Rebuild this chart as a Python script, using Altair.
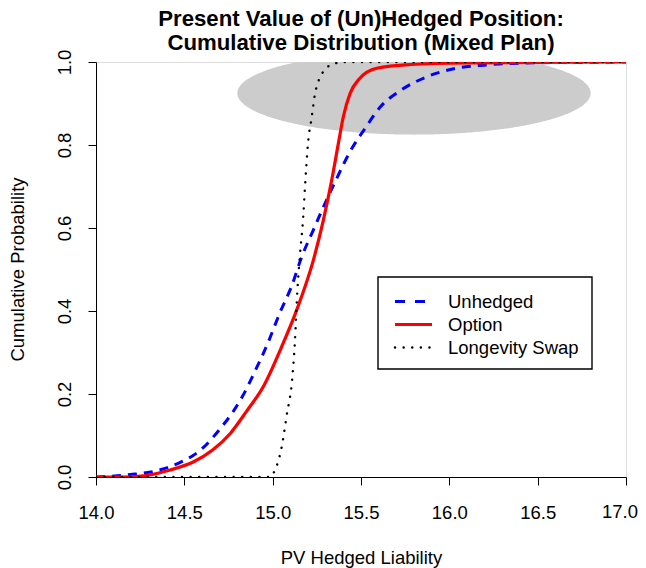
import altair as alt
import numpy as np
import pandas as pd

# ---- data ----
unhedged_x = [14.0, 14.12, 14.22, 14.31, 14.40, 14.48, 14.55, 14.61, 14.70, 14.78, 14.83, 14.90,
              14.975, 15.04, 15.11, 15.164, 15.23, 15.296, 15.362, 15.438, 15.523, 15.61, 15.73,
              15.87, 16.04, 16.21, 16.47, 16.75, 17.0]
unhedged_y = [0.0, 0.003, 0.007, 0.012, 0.022, 0.036, 0.052, 0.072, 0.115, 0.16, 0.195, 0.255,
              0.325, 0.395, 0.463, 0.530, 0.595, 0.659, 0.719, 0.784, 0.840, 0.892, 0.933,
              0.964, 0.985, 0.993, 0.998, 0.999, 1.0]

option_x = [14.0, 14.15, 14.27, 14.42, 14.55, 14.66, 14.76, 14.85, 14.95, 15.05, 15.14, 15.23,
            15.287, 15.334, 15.372, 15.40, 15.438, 15.494, 15.589, 15.78, 16.1, 16.5, 17.0]
option_y = [0.0, 0.0, 0.003, 0.017, 0.036, 0.065, 0.105, 0.157, 0.22, 0.313, 0.407, 0.522,
            0.619, 0.715, 0.804, 0.868, 0.924, 0.961, 0.985, 0.994, 0.998, 0.999, 1.0]

swap_x = [14.0, 14.99, 15.01, 15.05, 15.08, 15.11, 15.125, 15.14, 15.155, 15.173, 15.183, 15.20,
          15.22, 15.24, 15.26, 15.287, 15.31, 15.343, 15.40, 17.0]
swap_y = [0.0, 0.0, 0.014, 0.07, 0.15, 0.234, 0.32, 0.45, 0.538, 0.627, 0.699, 0.804,
          0.864, 0.924, 0.955, 0.977, 0.988, 0.995, 1.0, 1.0]

series_names = ["Unhedged", "Option", "Longevity Swap"]
series_colors = ["#0000FF", "#FF0000", "#000000"]

x_ticks = [14.0, 14.5, 15.0, 15.5, 16.0, 16.5, 17.0]
y_ticks = [0.0, 0.2, 0.4, 0.6, 0.8, 1.0]

ellipse_center = (15.8, 0.925)
ellipse_radii = (1.0, 0.1)

FONT = "Liberation Sans"
FS = 18.5

# ---- build tables ----
theta = np.linspace(np.pi, 0, 241)
ex = ellipse_center[0] + ellipse_radii[0] * np.cos(theta)
eh = ellipse_radii[1] * np.sin(theta)
ell_df = pd.DataFrame({
    "x": ex,
    "y": ellipse_center[1] - eh,
    "y2": np.minimum(1.0, ellipse_center[1] + eh),
})

dfs = [
    pd.DataFrame({"x": unhedged_x, "y": unhedged_y}),
    pd.DataFrame({"x": option_x, "y": option_y}),
    pd.DataFrame({"x": swap_x, "y": swap_y}),
]

xscale = alt.Scale(domain=[14, 17], nice=False, zero=False)
yscale = alt.Scale(domain=[0, 1], nice=False, zero=False)

last_tick = x_ticks[-1]
X = alt.X("x:Q", scale=xscale, axis=alt.Axis(
    values=x_ticks, format=".1f", title="PV Hedged Liability", grid=False,
    labelExpr=f"datum.value == {last_tick} ? '' : datum.label",
    labelFont=FONT, labelFontSize=FS, labelColor="black", labelBaseline="alphabetic",
    labelPadding=33, tickSize=8, tickColor="black", domainColor="black",
    titleFont=FONT, titleFontSize=FS, titleFontWeight="normal", titleColor="black",
    titleBaseline="alphabetic", titleY=86, labelFlush=False))
Y = alt.Y("y:Q", scale=yscale, axis=alt.Axis(
    values=y_ticks, format=".1f", title="Cumulative Probability", grid=False,
    labelFont=FONT, labelFontSize=FS, labelColor="black", labelAngle=-90,
    labelAlign="center", labelBaseline="alphabetic", labelPadding=18,
    tickSize=8, tickColor="black", domainColor="black",
    titleFont=FONT, titleFontSize=FS, titleFontWeight="normal", titleColor="black",
    titleBaseline="alphabetic", titleAlign="center", titleAngle=-90,
    titleX=-73, titleY=207, labelFlush=False))

ellipse = alt.Chart(ell_df).mark_area(color="#CCCCCC", clip=True).encode(
    x=X, y=Y, y2="y2:Q")

line_styles = [
    dict(strokeDash=[9, 7], strokeWidth=3, strokeCap="butt"),
    dict(strokeWidth=3.2),
    dict(strokeDash=[0.1, 8.5], strokeWidth=2.4, strokeCap="round"),
]
lines = []
for df, col, st in zip(dfs, series_colors, line_styles):
    lines.append(alt.Chart(df).mark_line(color=col, clip=True, interpolate="monotone", **st).encode(
        x=alt.X("x:Q", scale=xscale), y=alt.Y("y:Q", scale=yscale)))

# last x tick label, nudged so it stays inside the page
last_label = alt.Chart(pd.DataFrame({"x": [last_tick]})).mark_text(
    align="center", baseline="alphabetic", font=FONT, fontSize=FS, color="black", dx=-6).encode(
    x=alt.X("x:Q", scale=xscale), y=alt.value(415 + 8 + 33), text=alt.value(f"{last_tick:.1f}"))

# ---- legend (drawn as marks) ----
leg_box = alt.Chart(pd.DataFrame({"a": [0]})).mark_rect(
    fill="white", stroke="black", strokeWidth=1.4).encode(
    x=alt.value(282), x2=alt.value(496), y=alt.value(215), y2=alt.value(307))
leg_rows = [239.5, 262.5, 285.5]
leg_styles = [
    dict(strokeDash=[10, 10], strokeWidth=3),
    dict(strokeWidth=3),
    dict(strokeDash=[0.1, 8.5], strokeWidth=2.4, strokeCap="round"),
]
leg_layers = [leg_box]
for name, col, yy, st in zip(series_names, series_colors, leg_rows, leg_styles):
    leg_layers.append(alt.Chart(pd.DataFrame({"a": [0]})).mark_rule(color=col, **st).encode(
        x=alt.value(299), x2=alt.value(336), y=alt.value(yy)))
    leg_layers.append(alt.Chart(pd.DataFrame({"a": [0]})).mark_text(
        align="left", baseline="middle", font=FONT, fontSize=FS, color="black").encode(
        x=alt.value(352), y=alt.value(yy), text=alt.value(name)))

chart = alt.layer(ellipse, *lines, last_label, *leg_layers).properties(
    width=530, height=415,
    padding={"left": 88, "top": 54, "right": 12, "bottom": 91},
    autosize=alt.AutoSizeParams(type="none"),
    title=alt.TitleParams(
        text=["Present Value of (Un)Hedged Position:", "Cumulative Distribution (Mixed Plan)"],
        font=FONT, fontSize=22.2, fontWeight="bold", color="black", anchor="middle",
        frame="group", baseline="bottom", offset=-20.7, dy=7.5, lineHeight=24.5),
).configure_view(stroke="black", strokeWidth=1).configure(background="white")

chart.save("out.html", embed_options={"renderer": "svg", "actions": False})
